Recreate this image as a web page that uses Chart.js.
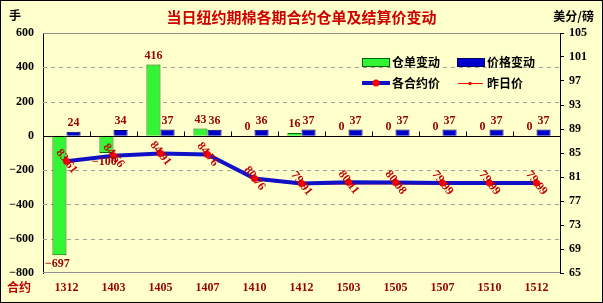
<!DOCTYPE html>
<html>
<head>
<meta charset="utf-8">
<script src="https://cdn.jsdelivr.net/npm/chart.js@4.4.0/dist/chart.umd.min.js"></script>
<style>
  html, body { margin: 0; padding: 0; background: #FFFFCC; }
  canvas { display: block; }
</style>
</head>
<body>
<canvas id="chart" width="603" height="303"></canvas>
<script>
// --- data ---
const categories    = ['1312', '1403', '1405', '1407', '1410', '1412', '1503', '1505', '1507', '1510', '1512'];
const warrantChange = [-697, -100, 416, 43, 0, 16, 0, 0, 0, 0, 0];          // 仓单变动 (手)
const priceChange   = [24, 34, 37, 36, 36, 37, 37, 37, 37, 37, 37];          // 价格变动
const settlePrice   = [83.61, 84.56, 84.91, 84.76, 80.76, 79.91, 80.11, 80.08, 79.99, 79.99, 79.99]; // 各合约价
const prevPrice     = [83.50, 84.45, 84.80, 84.65, 80.55, 79.75, 79.85, 79.85, 79.80, 79.80, 79.80]; // 昨日价
const leftTicks     = [600, 400, 200, 0, -200, -400, -600, -800];
const rightTicks    = [105, 101, 97, 93, 89, 85, 81, 77, 73, 69, 65];

const SERIF = '"Liberation Serif", "DejaVu Serif", serif';
const CJK   = '"Noto Sans CJK SC", "Noto Sans", sans-serif';
const BG    = '#FFFFCC';

/** Background, frame, dashed grid, zero line and category ticks. */
const framePlugin = {
    id: 'frame',
    beforeDraw(chart) {
        const { ctx, width, height } = chart;
        ctx.save();
        ctx.fillStyle = BG;
        ctx.fillRect(0, 0, width, height);
        ctx.restore();
    },
    beforeDatasetsDraw(chart) {
        const { ctx, chartArea: a, scales } = chart;
        const y = scales.y;
        ctx.save();
        ctx.lineWidth = 1;
        // dashed grid
        ctx.strokeStyle = '#A0A0A0';
        ctx.setLineDash([4, 4]);
        leftTicks.forEach(v => {
            if (v === 0 || v === 600 || v === -800) return;
            const py = Math.round(y.getPixelForValue(v)) + 0.5;
            ctx.beginPath(); ctx.moveTo(a.left, py); ctx.lineTo(a.right, py); ctx.stroke();
        });
        ctx.setLineDash([]);
        // top / bottom frame
        ctx.strokeStyle = '#909090';
        ctx.beginPath();
        ctx.moveTo(a.left, Math.round(a.top) + 0.5); ctx.lineTo(a.right, Math.round(a.top) + 0.5);
        ctx.moveTo(a.left, Math.round(a.bottom) - 0.5); ctx.lineTo(a.right, Math.round(a.bottom) - 0.5);
        ctx.stroke();
        ctx.restore();
    },
    afterDatasetsDraw(chart) {
        const { ctx, chartArea: a, scales } = chart;
        const zy = Math.round(scales.y.getPixelForValue(0)) + 0.5;
        ctx.save();
        ctx.strokeStyle = '#000';
        ctx.lineWidth = 1;
        ctx.beginPath();
        ctx.moveTo(a.left, zy); ctx.lineTo(a.right, zy);
        const step = (a.right - a.left) / categories.length;
        for (let i = 1; i < categories.length; i++) {
            const px = Math.round(a.left + i * step) + 0.5;
            ctx.moveTo(px, zy); ctx.lineTo(px, zy - 5);
        }
        ctx.stroke();
        ctx.restore();
    },
    afterDraw(chart) {
        const { ctx, width, height } = chart;
        ctx.save();
        ctx.strokeStyle = '#000';
        ctx.lineWidth = 1;
        ctx.strokeRect(0.5, 0.5, width - 1, height - 1);
        ctx.restore();
    }
};

/** Value labels for bars and the settlement line. */
const labelPlugin = {
    id: 'valueLabels',
    afterDatasetsDraw(chart) {
        const { ctx } = chart;
        ctx.save();
        ctx.font = 'bold 12px ' + SERIF;
        ctx.textAlign = 'center';
        [0, 1].forEach(di => {
            const ds = chart.data.datasets[di];
            chart.getDatasetMeta(di).data.forEach((el, i) => {
                const v = ds.data[i];
                ctx.fillStyle = '#990000';
                if (v < 0) {
                    ctx.textBaseline = 'top';
                    ctx.fillText('\u2212' + Math.abs(v), el.x - 2, el.y + 3);
                } else {
                    ctx.textBaseline = 'bottom';
                    ctx.fillText(String(v), el.x, el.y - 3);
                }
            });
        });
        // rotated labels on the settlement price points
        ctx.fillStyle = '#C00000';
        ctx.textBaseline = 'middle';
        chart.getDatasetMeta(2).data.forEach((pt, i) => {
            ctx.save();
            ctx.translate(pt.x, pt.y);
            ctx.rotate(52 * Math.PI / 180);
            ctx.fillText(settlePrice[i].toFixed(2), 0, 0);
            ctx.restore();
        });
        ctx.restore();
    }
};

/** Title, unit captions and the in-plot legend. */
const captionPlugin = {
    id: 'captions',
    afterDraw(chart) {
        const { ctx, chartArea: a } = chart;
        const ds = chart.data.datasets;
        ctx.save();
        ctx.textBaseline = 'middle';
        ctx.font = 'bold 15px ' + CJK;
        ctx.fillStyle = '#D00000';
        ctx.textAlign = 'center';
        ctx.fillText('当日纽约期棉各期合约仓单及结算价变动', (a.left + a.right) / 2, 17);

        ctx.font = 'bold 12px ' + CJK;
        ctx.fillStyle = '#000';
        ctx.textAlign = 'left';
        ctx.fillText('手', 9, 15);
        ctx.textAlign = 'right';
        ctx.fillText('美分/磅', 594, 16);
        ctx.textAlign = 'left';
        ctx.fillStyle = '#C00000';
        ctx.fillText('合约', 7, 287);

        // legend row 1: bar swatches
        ctx.lineWidth = 1;
        ctx.fillStyle = ds[0].backgroundColor; ctx.strokeStyle = '#006600';
        ctx.fillRect(362, 58, 27, 8); ctx.strokeRect(362.5, 58.5, 27, 8);
        ctx.fillStyle = ds[1].backgroundColor; ctx.strokeStyle = '#000066';
        ctx.fillRect(457, 58, 27, 8); ctx.strokeRect(457.5, 58.5, 27, 8);
        // legend row 2: line swatches
        ctx.strokeStyle = ds[2].borderColor; ctx.lineWidth = 4;
        ctx.beginPath(); ctx.moveTo(362, 83); ctx.lineTo(390, 83); ctx.stroke();
        ctx.fillStyle = '#FF0000';
        ctx.beginPath(); ctx.arc(376, 83, 3.5, 0, Math.PI * 2); ctx.fill();
        ctx.strokeStyle = ds[3].borderColor; ctx.lineWidth = 1;
        ctx.beginPath(); ctx.moveTo(458, 83.5); ctx.lineTo(483, 83.5); ctx.stroke();
        ctx.beginPath(); ctx.arc(470, 83.5, 1.8, 0, Math.PI * 2); ctx.fill();

        ctx.fillStyle = '#000';
        ctx.font = 'bold 12px ' + CJK;
        ctx.fillText(ds[0].label, 392, 62);
        ctx.fillText(ds[1].label, 487, 62);
        ctx.fillText(ds[2].label, 392, 83);
        ctx.fillText(ds[3].label, 487, 83);
        ctx.restore();
    }
};

new Chart(document.getElementById('chart'), {
    type: 'bar',
    data: {
        labels: categories,
        datasets: [
            {
                label: '仓单变动', data: warrantChange, yAxisID: 'y', order: 2,
                backgroundColor: '#33F533', borderColor: '#006600', borderWidth: 1,
                categoryPercentage: 0.6, barPercentage: 1.0
            },
            {
                label: '价格变动', data: priceChange, yAxisID: 'y', order: 3,
                backgroundColor: '#0000CC', borderColor: '#000066', borderWidth: 1,
                categoryPercentage: 0.6, barPercentage: 1.0
            },
            {
                type: 'line', label: '各合约价', data: settlePrice, yAxisID: 'y1', order: 0,
                borderColor: '#1010C8', borderWidth: 4, tension: 0,
                pointRadius: 3.5, pointBackgroundColor: '#FF0000', pointBorderWidth: 0
            },
            {
                type: 'line', label: '昨日价', data: prevPrice, yAxisID: 'y1', order: 1,
                borderColor: '#FF0000', borderWidth: 1, tension: 0,
                pointRadius: 1.8, pointBackgroundColor: '#FF0000', pointBorderWidth: 0
            }
        ]
    },
    options: {
        responsive: false,
        animation: false,
        layout: { padding: { top: 33, left: 0, right: 0, bottom: 0 } },
        plugins: { legend: { display: false }, title: { display: false }, tooltip: { enabled: false } },
        scales: {
            x: {
                offset: true,
                grid: { display: false, drawTicks: false },
                border: { display: false },
                ticks: { color: '#990000', font: { family: SERIF, size: 12, weight: 'bold' }, padding: 8, maxRotation: 0 },
                afterFit(scale) { scale.height = 30; }
            },
            y: {
                position: 'left',
                min: -800, max: 600,
                afterBuildTicks(scale) { scale.ticks = leftTicks.map(v => ({ value: v })); },
                grid: { display: false, drawTicks: false },
                border: { display: true, color: '#000', width: 1 },
                ticks: {
                    color: '#000', padding: 9,
                    font: { family: SERIF, size: 12, weight: 'bold' },
                    callback: v => (v < 0 ? '\u2212' + Math.abs(v) : String(v))
                },
                afterFit(scale) { scale.width = 43; }
            },
            y1: {
                position: 'right',
                min: 65, max: 105,
                afterBuildTicks(scale) { scale.ticks = rightTicks.map(v => ({ value: v })); },
                grid: { drawOnChartArea: false, drawTicks: true, tickLength: 4, tickColor: '#000' },
                border: { display: true, color: '#000', width: 1 },
                ticks: { color: '#000', padding: 5, font: { family: SERIF, size: 12, weight: 'bold' } },
                afterFit(scale) { scale.width = 43; }
            }
        }
    },
    plugins: [framePlugin, labelPlugin, captionPlugin]
});
</script>
</body>
</html>
